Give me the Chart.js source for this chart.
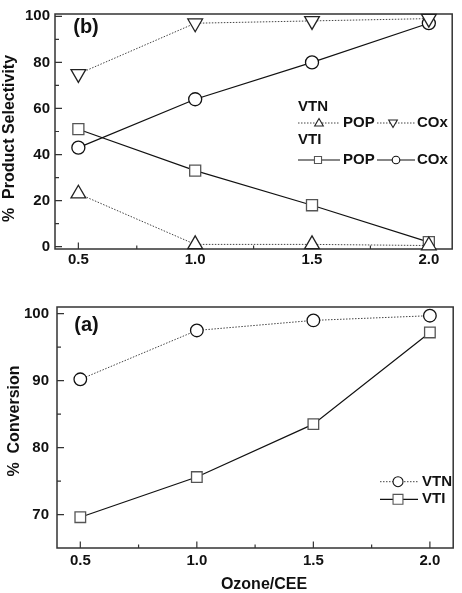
<!DOCTYPE html>
<html>
<head>
<meta charset="utf-8">
<script src="https://cdn.jsdelivr.net/npm/chart.js@4.4.1/dist/chart.umd.min.js"></script>
<style>
  body { margin: 0; background: #fff; }
  #wrap { position: relative; width: 462px; height: 593px; }
  canvas { position: absolute; left: 0; }
</style>
</head>
<body>
<div id="wrap">
  <canvas id="chart-selectivity" width="462" height="290" style="top:0"></canvas>
  <canvas id="chart-conversion" width="462" height="303" style="top:290px"></canvas>
</div>
<script>
// Ozone/CEE ratio on the x axis of both panels
const ozoneRatio = [0.5, 1.0, 1.5, 2.0];
const xTicks = [0.5, 1.0, 1.5, 2.0];
const xMinorTicks = [0.75, 1.25, 1.75];

// (b) % product selectivity
const vtnPop = [23, 1, 1, 0.5];
const vtnCox = [75, 97, 98, 99];
const vtiPop = [51, 33, 18, 2];
const vtiCox = [43, 64, 80, 97];
const selTicks = [0, 20, 40, 60, 80, 100];
const selMinorTicks = [10, 30, 50, 70, 90];

// (a) % conversion
const vtnConv = [90.2, 97.5, 99.0, 99.7];
const vtiConv = [69.6, 75.6, 83.5, 97.2];
const convTicks = [70, 80, 90, 100];
const convMinorTicks = [75, 85, 95];

const FONT = "'Liberation Sans', Arial, sans-serif";
const INK = '#111';

const xy = arr => ozoneRatio.map((x, i) => ({ x: x, y: arr[i] }));

function marker(ctx, style, x, y, r, color) {
    ctx.save();
    ctx.beginPath();
    if (style === 'circle') {
        ctx.arc(x, y, r, 0, Math.PI * 2);
    } else if (style === 'rect') {
        const s = r * Math.SQRT1_2;
        ctx.rect(x - s, y - s, 2 * s, 2 * s);
    } else {
        const d = style === 'triDown' ? -1 : 1;
        ctx.moveTo(x, y - d * r);
        ctx.lineTo(x + 0.866 * r, y + d * r / 2);
        ctx.lineTo(x - 0.866 * r, y + d * r / 2);
        ctx.closePath();
    }
    ctx.fillStyle = '#fff';
    ctx.fill();
    ctx.lineWidth = 1.1;
    ctx.strokeStyle = color;
    ctx.stroke();
    ctx.restore();
}

function legendLine(ctx, x1, x2, y, dotted) {
    ctx.save();
    ctx.beginPath();
    ctx.strokeStyle = dotted ? '#444' : INK;
    ctx.lineWidth = dotted ? 1 : 1.2;
    if (dotted) ctx.setLineDash([1.5, 1.5]);
    ctx.moveTo(x1, y);
    ctx.lineTo(x2, y);
    ctx.stroke();
    ctx.restore();
}

function text(ctx, str, x, y, size, align, rotate) {
    ctx.save();
    ctx.font = 'bold ' + size + 'px ' + FONT;
    ctx.fillStyle = INK;
    ctx.textAlign = align || 'center';
    ctx.textBaseline = 'middle';
    ctx.translate(x, y);
    if (rotate) ctx.rotate(-Math.PI / 2);
    ctx.fillText(str, 0, 0);
    ctx.restore();
}

// box frame with inward major/minor ticks
const framePlugin = {
    id: 'frame',
    beforeDatasetsDraw(chart, args, opts) {
        const { ctx, chartArea: a, scales: { x, y } } = chart;
        ctx.save();
        ctx.strokeStyle = '#333';
        ctx.lineWidth = 1.5;
        ctx.strokeRect(a.left, a.top, a.right - a.left, a.bottom - a.top);
        ctx.lineWidth = 1.2;
        ctx.beginPath();
        xTicks.forEach(v => {
            const px = x.getPixelForValue(v);
            ctx.moveTo(px, a.bottom);
            ctx.lineTo(px, a.bottom - 6.5);
        });
        xMinorTicks.forEach(v => {
            const px = x.getPixelForValue(v);
            ctx.moveTo(px, a.bottom);
            ctx.lineTo(px, a.bottom - 3.5);
        });
        opts.yMajor.forEach(v => {
            const py = y.getPixelForValue(v);
            ctx.moveTo(a.left, py);
            ctx.lineTo(a.left + 7, py);
        });
        opts.yMinor.forEach(v => {
            const py = y.getPixelForValue(v);
            ctx.moveTo(a.left, py);
            ctx.lineTo(a.left + 4, py);
        });
        ctx.stroke();
        ctx.restore();
    }
};

function scales(yMin, yMax, yTicks, yWidth, yPad, xHeight, xPad) {
    const tickFont = { family: FONT, size: 15, weight: 'bold' };
    return {
        x: {
            type: 'linear',
            min: 0.4,
            max: 2.1,
            afterBuildTicks: s => { s.ticks = xTicks.map(v => ({ value: v })); },
            afterFit: s => { s.height = xHeight; },
            grid: { display: false, drawTicks: false },
            border: { display: false },
            ticks: {
                padding: xPad,
                color: INK,
                font: tickFont,
                autoSkip: false,
                maxRotation: 0,
                callback: v => Number(v).toFixed(1)
            }
        },
        y: {
            type: 'linear',
            min: yMin,
            max: yMax,
            afterBuildTicks: s => { s.ticks = yTicks.map(v => ({ value: v })); },
            afterFit: s => { s.width = yWidth; },
            grid: { display: false, drawTicks: false },
            border: { display: false },
            ticks: {
                padding: yPad,
                color: INK,
                font: tickFont,
                callback: v => String(v)
            }
        }
    };
}

function series(data, style, radius, dotted, pointColor, rotation) {
    return {
        data: xy(data),
        borderColor: dotted ? '#444' : INK,
        borderWidth: dotted ? 1 : 1.2,
        borderDash: dotted ? [1.5, 1.5] : [],
        pointStyle: style,
        pointRadius: radius,
        pointRotation: rotation || 0,
        pointBackgroundColor: '#fff',
        pointBorderColor: pointColor,
        pointBorderWidth: 1.3,
        clip: false
    };
}

// Chart 1: (b) product selectivity
new Chart(document.getElementById('chart-selectivity'), {
    type: 'line',
    data: {
        datasets: [
            series(vtnPop, 'triangle', 8.5, true, '#222'),
            series(vtnCox, 'triangle', 8.5, true, '#222', 180),
            series(vtiPop, 'rect', 7.8, false, '#555'),
            series(vtiCox, 'circle', 6.5, false, '#111')
        ]
    },
    options: {
        responsive: false,
        animation: false,
        layout: { padding: { top: 5, right: 2, left: 0, bottom: 0 } },
        scales: scales(-1, 101, selTicks, 55, 5, 41, 2),
        plugins: {
            legend: { display: false },
            tooltip: { enabled: false },
            frame: { yMajor: selTicks, yMinor: selMinorTicks }
        }
    },
    plugins: [framePlugin, {
        id: 'labelsB',
        afterDraw(chart) {
            const ctx = chart.ctx;
            text(ctx, '%  Product Selectivity', 9.5, 138.5, 16, 'center', true);
            text(ctx, '(b)', 86, 27.5, 20);
            // legend
            text(ctx, 'VTN', 298, 106.5, 15, 'left');
            legendLine(ctx, 298, 340, 123, true);
            marker(ctx, 'triUp', 319, 123.5, 5, '#222');
            text(ctx, 'POP', 343, 123, 15, 'left');
            legendLine(ctx, 377, 415, 123, true);
            marker(ctx, 'triDown', 393, 122.5, 5, '#222');
            text(ctx, 'COx', 417, 123, 15, 'left');
            text(ctx, 'VTI', 298, 139.5, 15, 'left');
            legendLine(ctx, 298, 340, 160, false);
            marker(ctx, 'rect', 318, 160, 5, '#555');
            text(ctx, 'POP', 343, 160, 15, 'left');
            legendLine(ctx, 377, 415, 160, false);
            marker(ctx, 'circle', 396, 160, 3.8, '#111');
            text(ctx, 'COx', 417, 160, 15, 'left');
        }
    }]
});

// Chart 2: (a) conversion
new Chart(document.getElementById('chart-conversion'), {
    type: 'line',
    data: {
        datasets: [
            series(vtnConv, 'circle', 6.3, true, '#111'),
            series(vtiConv, 'rect', 7.5, false, '#555')
        ]
    },
    options: {
        responsive: false,
        animation: false,
        layout: { padding: { top: 13.5, right: 1, left: 0, bottom: 0 } },
        scales: scales(65, 101, convTicks, 57, 8, 45, 4),
        plugins: {
            legend: { display: false },
            tooltip: { enabled: false },
            frame: { yMajor: convTicks, yMinor: convMinorTicks }
        }
    },
    plugins: [framePlugin, {
        id: 'labelsA',
        afterDraw(chart) {
            const ctx = chart.ctx;
            text(ctx, '%  Conversion', 14.5, 131, 16, 'center', true);
            text(ctx, 'Ozone/CEE', 264, 295, 16);
            text(ctx, '(a)', 86.5, 35.5, 20);
            legendLine(ctx, 380, 418, 191.7, true);
            marker(ctx, 'circle', 398, 191.7, 5, '#111');
            text(ctx, 'VTN', 422, 191.7, 15, 'left');
            legendLine(ctx, 380, 418, 209.3, false);
            marker(ctx, 'rect', 398, 209.3, 7, '#555');
            text(ctx, 'VTI', 422, 209.3, 15, 'left');
        }
    }]
});
</script>
</body>
</html>
